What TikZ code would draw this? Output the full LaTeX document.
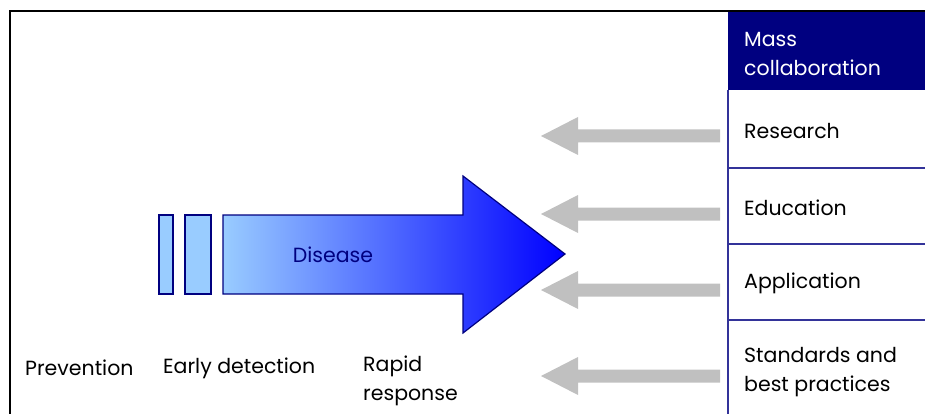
\documentclass[tikz,border=0pt]{standalone}
\usepackage{fontspec}
\setmainfont{Poppins}
\definecolor{navy}{HTML}{000080}
\definecolor{rowline}{HTML}{333399}
\definecolor{lightblue}{HTML}{99CCFF}
\definecolor{arrowgray}{HTML}{C0C0C0}
\tikzset{
  txt/.style={anchor=west,align=left,inner sep=0pt,font=\fontsize{20.5}{29}\selectfont},
  bar/.style={fill=lightblue,draw=navy,line width=1.2pt},
  back/.style={fill=arrowgray}
}
\begin{document}
\begin{tikzpicture}[x=1pt,y=-1pt]
\useasboundingbox (0,0) rectangle (925,414);
% frame
\draw[line width=1.5pt] (10,414) -- (10,11) -- (925,11);
% column on the right
\fill[navy] (728,12) rectangle (925,90);
\draw[rowline,line width=1.3pt] (728,90) -- (728,414);
\draw[rowline,line width=1.3pt] (728,168) -- (925,168);
\draw[rowline,line width=1.3pt] (728,244) -- (925,244);
\draw[rowline,line width=1.3pt] (728,320) -- (925,320);
\node[txt,text=white] (mass) at (744,54) {Mass\\collaboration};
\node[txt] (research) at (744,131) {Research};
\node[txt] (education) at (744,208) {Education};
\node[txt] (application) at (744,283) {Application};
\node[txt] (standards) at (744,372) {Standards and\\best practices};
% gray arrows
\fill[back] (720,129.5) -- (578,129.5) -- (578,117) -- (541,136) -- (578,155) -- (578,142.5) -- (720,142.5) -- cycle;
\fill[back] (720,207.5) -- (578,207.5) -- (578,195) -- (541,214) -- (578,233) -- (578,220.5) -- (720,220.5) -- cycle;
\fill[back] (720,283.5) -- (578,283.5) -- (578,271) -- (541,290) -- (578,309) -- (578,296.5) -- (720,296.5) -- cycle;
\fill[back] (720,369.5) -- (578,369.5) -- (578,357) -- (541,376) -- (578,395) -- (578,382.5) -- (720,382.5) -- cycle;
% disease arrow
\draw[bar] (159,215) rectangle (173,294);
\draw[bar] (185,215) rectangle (211,294);
\shadedraw[left color=lightblue,right color=blue,draw=navy,line width=1.2pt]
  (223,215) -- (463,215) -- (463,176) -- (565,254) -- (463,333) -- (463,294) -- (223,294) -- cycle;
\node[txt,anchor=center,text=navy] (disease) at (333,255) {Disease};
% stages
\node[txt] (prevention) at (25,368) {Prevention};
\node[txt] (early) at (163,368) {Early detection};
\node[txt] (rapid) at (363,381) {Rapid\\response};
\end{tikzpicture}
\end{document}
